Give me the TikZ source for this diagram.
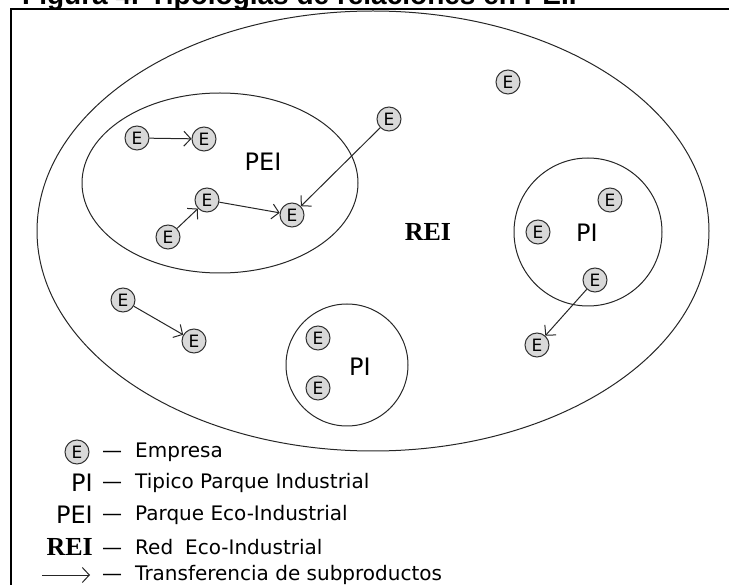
\documentclass[tikz,border=0pt]{standalone}
\usepackage{fontspec}
\setmainfont{DejaVu Sans}
\newfontfamily\titlefont{Liberation Sans}
\newfontfamily\reifont{Liberation Serif}
\usetikzlibrary{arrows.meta}

\begin{document}
\begin{tikzpicture}[x=1pt,y=-1pt,
  emp/.style={circle,draw=black!80,fill=black!15,line width=1pt,inner sep=0pt,minimum size=24pt,font=\fontsize{17}{17}\selectfont},
  tr/.style={-{Straight Barb[length=7pt,width=15pt]},black!85,line width=1pt},
  lbl/.style={font=\fontsize{24}{24}\selectfont,inner sep=0pt},
  rei/.style={font=\reifont\bfseries\fontsize{26}{26}\selectfont,inner sep=0pt},
  leg/.style={font=\fontsize{20}{20}\selectfont,anchor=west,inner sep=0pt}]
\useasboundingbox (0,0) rectangle (729,585);
\node[anchor=base west,inner sep=0pt,font=\titlefont\bfseries\fontsize{28}{28}\selectfont] (titulo) at (22,5) {Figura 4. Tipologías de relaciones en PEI.};
\draw[line width=2.5pt] (11,585) -- (11,9) -- (729,9);
\draw[black!85,line width=1pt] (373,231) ellipse [x radius=336,y radius=220];
\draw[black!85,line width=1pt] (220,183) ellipse [x radius=138,y radius=90];
\draw[black!85,line width=1pt] (588,232) circle [radius=74];
\draw[black!85,line width=1pt] (347,365) circle [radius=61];
\node[emp] (e1) at (137,138) {E};
\node[emp] (e2) at (204,139) {E};
\node[emp] (e3) at (207,200) {E};
\node[emp] (e4) at (292,215) {E};
\node[emp] (e5) at (168,237) {E};
\node[emp] (e6) at (389,119) {E};
\node[emp] (e7) at (508,82) {E};
\node[emp] (e8) at (123,300) {E};
\node[emp] (e9) at (194,341) {E};
\node[emp] (e10) at (318,338) {E};
\node[emp] (e11) at (318,388) {E};
\node[emp] (e12) at (538,232) {E};
\node[emp] (e13) at (610,200) {E};
\node[emp] (e14) at (595,280) {E};
\node[emp] (e15) at (537,345) {E};
\node[lbl] (pei) at (263,162) {PEI};
\node[rei] (rei) at (428,232) {REI};
\node[lbl] (pi1) at (587,233) {PI};
\node[lbl] (pi2) at (360,367) {PI};
\draw[tr] (e1) -- (e2);
\draw[tr] (e5) -- (e3);
\draw[tr] (e3) -- (e4);
\draw[tr] (e6) -- (e4);
\draw[tr] (e8) -- (e9);
\draw[tr] (e14) -- (e15);
\node[emp] (legE) at (77,452) {E};
\node[lbl,anchor=east] (legPI) at (93,483) {PI};
\node[lbl,anchor=east] (legPEI) at (93,515) {PEI};
\node[rei,anchor=east] (legREI) at (93,547) {REI};
\coordinate (flA) at (42,575);
\coordinate (flB) at (90,575);
\draw[tr] (flA) -- (flB);
\node[leg] (t1) at (102,452) {—\hspace{13pt}Empresa};
\node[leg] (t2) at (102,483) {—\hspace{13pt}Tipico Parque Industrial};
\node[leg] (t3) at (102,515) {—\hspace{13pt}Parque Eco-Industrial};
\node[leg] (t4) at (102,547) {—\hspace{13pt}Red\hspace{12pt}Eco-Industrial};
\node[leg] (t5) at (102,575) {—\hspace{13pt}Transferencia de subproductos};
\end{tikzpicture}
\end{document}
